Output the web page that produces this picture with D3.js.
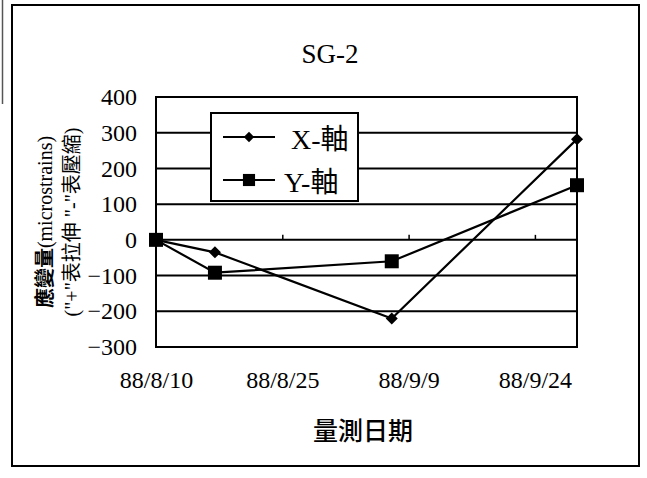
<!DOCTYPE html>
<html>
<head>
<meta charset="utf-8">
<script src="https://cdn.jsdelivr.net/npm/d3@7"></script>
<style>
  html, body { margin: 0; padding: 0; background: #fff; }
  svg { display: block; }
  text { fill: #000; }
</style>
</head>
<body>
<svg id="chart" width="647" height="478"></svg>
<script>
// Strain gauge SG-2 readings (ROC calendar dates, year 88 = 1999)
const measureDates = ["88/8/10", "88/8/17", "88/9/7", "88/9/29"];
const strainX = [0, -35, -220, 282];
const strainY = [0, -92, -60, 153];
const seriesNames = ["X-軸", "Y-軸"];
const xTickLabels = ["88/8/10", "88/8/25", "88/9/9", "88/9/24"];
const yTickValues = [-300, -200, -100, 0, 100, 200, 300, 400];

const parseRoc = s => {
  const [y, m, d] = s.split("/").map(Number);
  return new Date(y + 1911, m - 1, d);
};
const fmtRoc = d => `${d.getFullYear() - 1911}/${d.getMonth() + 1}/${d.getDate()}`;

const SERIF = "'Liberation Serif', 'Times New Roman', 'Noto Sans CJK TC', serif";
const CJK = "'Noto Sans CJK TC', 'Noto Sans CJK SC', sans-serif";

const svg = d3.select("#chart");

// outer frame
svg.append("rect")
  .attr("x", 12).attr("y", 5).attr("width", 627).attr("height", 461)
  .attr("fill", "none").attr("stroke", "#000").attr("stroke-width", 2);
svg.append("line")
  .attr("x1", 2.5).attr("x2", 2.5).attr("y1", 0).attr("y2", 104)
  .attr("stroke", "#555").attr("stroke-width", 1.5);

const plot = { left: 156, top: 97, right: 577, bottom: 347 };

const x = d3.scaleTime()
  .domain([parseRoc(measureDates[0]), parseRoc(measureDates[measureDates.length - 1])])
  .range([plot.left, plot.right]);
const y = d3.scaleLinear()
  .domain([d3.min(yTickValues), d3.max(yTickValues)])
  .range([plot.bottom, plot.top]);

// title
svg.append("text")
  .attr("x", 330).attr("y", 63)
  .attr("text-anchor", "middle")
  .style("font-family", SERIF).style("font-size", "27px")
  .text("SG-2");

// horizontal gridlines
svg.append("g")
  .selectAll("line")
  .data(yTickValues)
  .join("line")
  .attr("x1", plot.left).attr("x2", plot.right)
  .attr("y1", d => y(d)).attr("y2", d => y(d))
  .attr("stroke", "#000").attr("stroke-width", 2);

// plot frame
svg.append("rect")
  .attr("x", plot.left).attr("y", plot.top)
  .attr("width", plot.right - plot.left).attr("height", plot.bottom - plot.top)
  .attr("fill", "none").attr("stroke", "#000").attr("stroke-width", 2);

// y axis labels
const yAxis = d3.axisLeft(y).tickValues(yTickValues).tickSize(0).tickPadding(19);
const gy = svg.append("g").attr("transform", `translate(${plot.left},0)`).call(yAxis)
  .attr("font-family", SERIF).attr("font-size", 24);
gy.select(".domain").remove();
gy.selectAll("text")
  .style("font-family", SERIF).style("font-size", "24px");

// date axis crossing at zero, with short ticks pointing upward
const tickDates = xTickLabels.map(parseRoc);
const xAxisZero = d3.axisTop(x).tickValues(tickDates.slice(1)).tickSize(5).tickFormat("");
const gx0 = svg.append("g").attr("transform", `translate(0,${y(0)})`).call(xAxisZero);
gx0.select(".domain").remove();
gx0.selectAll(".tick line").attr("stroke", "#000").attr("stroke-width", 1.5);

// date labels below the plot
const xAxisLabels = d3.axisBottom(x).tickValues(tickDates).tickSize(0).tickPadding(24)
  .tickFormat(fmtRoc);
const gx = svg.append("g").attr("transform", `translate(0,${plot.bottom})`).call(xAxisLabels)
  .attr("font-family", SERIF).attr("font-size", 24);
gx.select(".domain").remove();
gx.selectAll("text")
  .style("font-family", SERIF).style("font-size", "24px");

// axis titles
svg.append("text")
  .attr("x", 363).attr("y", 440)
  .attr("text-anchor", "middle")
  .style("font-family", CJK).style("font-size", "25px").style("font-weight", "500")
  .text("量測日期");

const yTitle = svg.append("g").attr("transform", "translate(0,222) rotate(-90)");
const yLine1 = yTitle.append("text")
  .attr("x", 0).attr("y", 52)
  .attr("text-anchor", "middle")
  .style("font-family", SERIF).style("font-size", "20px");
yLine1.append("tspan").style("font-family", CJK).style("font-weight", "700").text("應變量");
yLine1.append("tspan").text("(microstrains)");
yTitle.append("text")
  .attr("x", 0).attr("y", 79)
  .attr("text-anchor", "middle")
  .style("font-family", SERIF).style("font-size", "20px")
  .text("(\"+\"表拉伸 \"-\"表壓縮)");

// series
const series = [
  { name: seriesNames[0], values: strainX, shape: "diamond" },
  { name: seriesNames[1], values: strainY, shape: "square" }
];
const points = s => measureDates.map((d, i) => ({ date: parseRoc(d), value: s.values[i] }));
const line = d3.line().x(d => x(d.date)).y(d => y(d.value));

const markerPath = (shape, scale) => shape === "diamond"
  ? d3.symbol(d3.symbolSquare, 72 * scale)()
  : d3.symbol(d3.symbolSquare, 196 * scale)();
const markerRotate = shape => shape === "diamond" ? 45 : 0;

series.forEach(s => {
  const pts = points(s);
  svg.append("path")
    .datum(pts)
    .attr("d", line)
    .attr("fill", "none").attr("stroke", "#000").attr("stroke-width", 2.2);
  svg.append("g")
    .selectAll("path")
    .data(pts)
    .join("path")
    .attr("d", markerPath(s.shape, 1))
    .attr("transform", d => `translate(${x(d.date)},${y(d.value)}) rotate(${markerRotate(s.shape)})`)
    .attr("fill", "#000");
});

// legend
const legend = svg.append("g");
legend.append("rect")
  .attr("x", 211).attr("y", 113).attr("width", 147).attr("height", 88)
  .attr("fill", "#fff").attr("stroke", "#000").attr("stroke-width", 2);
series.forEach((s, i) => {
  const cy = 137 + i * 43;
  legend.append("line")
    .attr("x1", 223).attr("x2", 275).attr("y1", cy).attr("y2", cy)
    .attr("stroke", "#000").attr("stroke-width", 2);
  legend.append("path")
    .attr("d", markerPath(s.shape, 0.75))
    .attr("transform", `translate(249,${cy}) rotate(${markerRotate(s.shape)})`)
    .attr("fill", "#000");
  legend.append("text")
    .attr("x", i === 0 ? 291 : 284).attr("y", cy + 12)
    .style("font-family", SERIF).style("font-size", "28px")
    .text(s.name);
});
</script>
</body>
</html>
